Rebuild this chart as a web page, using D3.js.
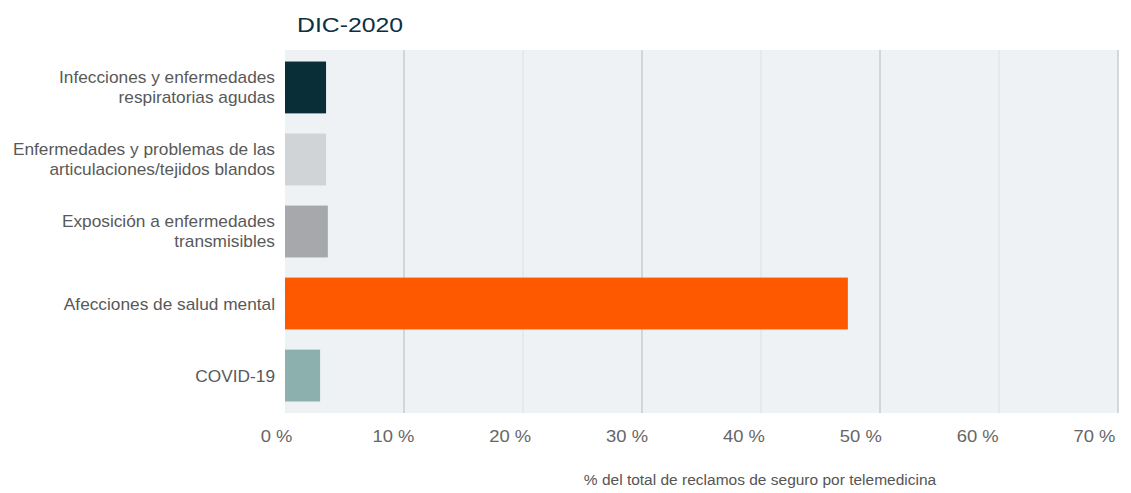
<!DOCTYPE html>
<html><head><meta charset="utf-8">
<script src="https://cdn.jsdelivr.net/npm/d3@7"></script>
<style>body{margin:0;background:#fff;font-family:"Liberation Sans",Arial,sans-serif}</style>
</head><body><svg id="c" width="1131" height="493"></svg>
<script>
const categories = [
  ["Infecciones y enfermedades","respiratorias agudas"],
  ["Enfermedades y problemas de las","articulaciones/tejidos blandos"],
  ["Exposición a enfermedades","transmisibles"],
  ["Afecciones de salud mental"],
  ["COVID-19"]
];
const values = [3.45, 3.45, 3.6, 47.3, 2.95];
const colors = ["#0a2e37", "#d1d4d6", "#a6a8ab", "#ff5900", "#8cb0ae"];
const xTicks = [0,10,20,30,40,50,60,70];
const title = "DIC-2020";
const xTitle = "% del total de reclamos de seguro por telemedicina";

const FF = "Liberation Sans, Arial, sans-serif";
const svg = d3.select("#c");
const m = {l:285, r:1118, t:50, b:413};
const x = d3.scaleLinear().domain([0,70]).range([m.l, m.r]);
const xl = d3.scaleLinear().domain([0,70]).range([276, 1094]);
const y = d3.scaleBand().domain(d3.range(categories.length)).range([m.t, m.b]).paddingInner(0.28).paddingOuter(0.16);

svg.append("rect").attr("x",m.l).attr("y",m.t).attr("width",m.r-m.l).attr("height",m.b-m.t).attr("fill","#eff2f5");

svg.append("g").selectAll("line").data(xTicks.slice(1)).join("line")
  .attr("x1",d=>x(d)).attr("x2",d=>x(d)).attr("y1",m.t).attr("y2",m.b)
  .attr("stroke",(d,i)=> i%2===0 ? "#c9ccd0" : "#e3e6e9").attr("stroke-width",1.5);

svg.append("g").selectAll("rect").data(values).join("rect")
  .attr("x",x(0)).attr("y",(d,i)=>y(i)).attr("width",d=>x(d)-x(0)).attr("height",y.bandwidth())
  .attr("fill",(d,i)=>colors[i]);

const lab = svg.append("g").attr("transform","translate(275,0) scale(1.08,1)")
  .selectAll("text").data(categories).join("text")
  .attr("x",0).attr("text-anchor","end").attr("fill","#595959")
  .style("font-size","16px").style("font-family",FF);
lab.each(function(lines,i){
  const cy = y(i)+y.bandwidth()/2;
  const n = lines.length, lh = 20;
  d3.select(this).selectAll("tspan").data(lines).join("tspan")
    .attr("x",0).attr("y",(l,j)=>cy + (j-(n-1)/2)*lh + 6).text(l=>l);
});

const ax = d3.axisBottom(xl).tickValues(xTicks).tickFormat(d=>d+" %").tickSize(0).tickPadding(0);
const g = svg.append("g").attr("transform",`translate(0,${m.b})`).call(ax);
g.select(".domain").remove();
g.selectAll("text").attr("y",29.5).attr("dy",null).attr("fill","#666").attr("transform","scale(1.15,1)")
  .style("font-size","16px").style("font-family",FF);

svg.append("text").attr("transform","translate(297,32) scale(1.18,1)").attr("fill","#0c3040")
  .style("font-size","21px").style("font-family",FF).text(title);
svg.append("text").attr("transform","translate(760,485) scale(1.07,1)").attr("text-anchor","middle").attr("fill","#555")
  .style("font-size","14.5px").style("font-family",FF).text(xTitle);
</script></body></html>
